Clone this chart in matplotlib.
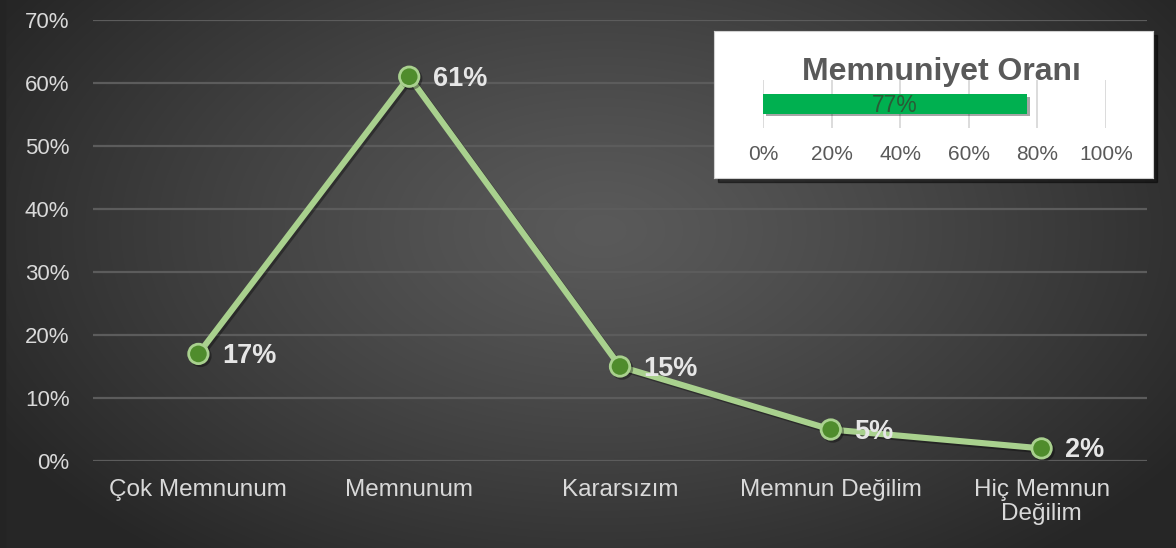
import matplotlib
matplotlib.use('Agg')
import matplotlib.pyplot as plt
import matplotlib.patheffects as pe
from matplotlib.patches import Rectangle
import numpy as np

plt.rcParams['font.family'] = ['Liberation Sans', 'DejaVu Sans']

# satisfaction survey results
categories = ['Çok Memnunum', 'Memnunum', 'Kararsızım', 'Memnun Değilim', 'Hiç Memnun\nDeğilim']
shares = [17, 61, 15, 5, 2]
y_ticks = [0, 10, 20, 30, 40, 50, 60, 70]

# overall satisfaction gauge
overall_label = 'Memnuniyet Oranı'
overall_rate = 77
gauge_ticks = [0, 20, 40, 60, 80, 100]

W, H = 1176, 548
fig = plt.figure(figsize=(W / 100, H / 100), dpi=100)

# dark radial background
bg = fig.add_axes([0, 0, 1, 1], zorder=-10)
yy, xx = np.mgrid[0:H, 0:W]
r = np.sqrt(((xx - 600) / 700.0) ** 2 + ((yy - 230) / 420.0) ** 2)
r = np.clip(r, 0, 1)
inner, outer = 0x5a / 255, 0x26 / 255
shade = inner + (outer - inner) * r ** 1.2
bg.imshow(np.dstack([shade, shade, shade]), extent=[0, W, H, 0], aspect='auto')
bg.add_patch(Rectangle((0, 0), 5, H, color='#242424'))
bg.set_xlim(0, W)
bg.set_ylim(H, 0)
bg.axis('off')

# main line chart
ax = fig.add_axes([93 / W, (H - 461) / H, (1147 - 93) / W, (461 - 20) / H])
ax.set_facecolor('none')
x = np.arange(len(categories))
ax.plot(x, shares, color='#a9d18e', lw=4.4, marker='o', markersize=14,
        markerfacecolor='#4f8c2c', markeredgecolor='#a9d18e', markeredgewidth=2,
        zorder=3,
        path_effects=[pe.SimpleLineShadow(offset=(1.5, -1.5), shadow_color='black', alpha=0.35),
                      pe.Normal()])
for xi, v in zip(x, shares):
    ax.annotate(f'{v}%', (xi, v), xytext=(17, -1.5), textcoords='offset points',
                ha='left', va='center', fontsize=19.5, fontweight='bold',
                color='#e6e6e6', zorder=5)

ax.set_xlim(-0.5, len(categories) - 0.5)
ax.set_ylim(0, 70)
ax.set_yticks(y_ticks)
ax.set_yticklabels([f'{t}%' for t in y_ticks])
ax.set_xticks(x)
ax.set_xticklabels(categories, linespacing=1.1)
ax.tick_params(axis='y', length=0, pad=17, labelsize=16, labelcolor='#d9d9d9')
ax.tick_params(axis='x', length=0, pad=13, labelsize=17.5, labelcolor='#d9d9d9')
ax.grid(axis='y', color='#5c5c5c', lw=1.6)
ax.set_axisbelow(True)
for s in ax.spines.values():
    s.set_visible(False)

# inset box with shadow
bx0, by0, bw, bh = 714, 31, 439, 147
fig.add_artist(Rectangle(((bx0 + 4) / W, (H - by0 - bh - 4) / H), bw / W, bh / H,
                         transform=fig.transFigure, color='black', alpha=0.45, zorder=0.5))
box = fig.add_axes([bx0 / W, (H - by0 - bh) / H, bw / W, bh / H], zorder=1)
box.set_facecolor('white')
box.set_xticks([])
box.set_yticks([])
for s in box.spines.values():
    s.set_color('#d0d0d0')
box.text((941 - bx0) / bw, (by0 + bh - 80) / bh, overall_label, transform=box.transAxes,
         ha='center', va='baseline', fontsize=23, fontweight='bold', color='#595959')

gx = fig.add_axes([763 / W, (H - 128) / H, 343 / W, 48 / H], zorder=2)
gx.set_facecolor('none')
bar = gx.barh(0, overall_rate, height=0.4, color='#00b050', zorder=3)
for p in bar:
    p.set_path_effects([pe.SimplePatchShadow(offset=(2, -2), shadow_rgbFace='black', alpha=0.35),
                        pe.Normal()])
gx.text(overall_rate / 2, -0.03, f'{overall_rate}%', ha='center', va='center',
        fontsize=16.5, color='#2a5a36', zorder=4)
gx.set_xlim(0, 100)
gx.set_ylim(-0.5, 0.5)
gx.set_xticks(gauge_ticks)
gx.set_xticklabels([f'{t}%' for t in gauge_ticks])
gx.set_yticks([])
gx.tick_params(axis='x', length=0, pad=12, labelsize=15, labelcolor='#595959')
gx.grid(axis='x', color='#d9d9d9', lw=1.3)
gx.set_axisbelow(True)
for s in gx.spines.values():
    s.set_visible(False)

fig.savefig('out.png', dpi=100)
